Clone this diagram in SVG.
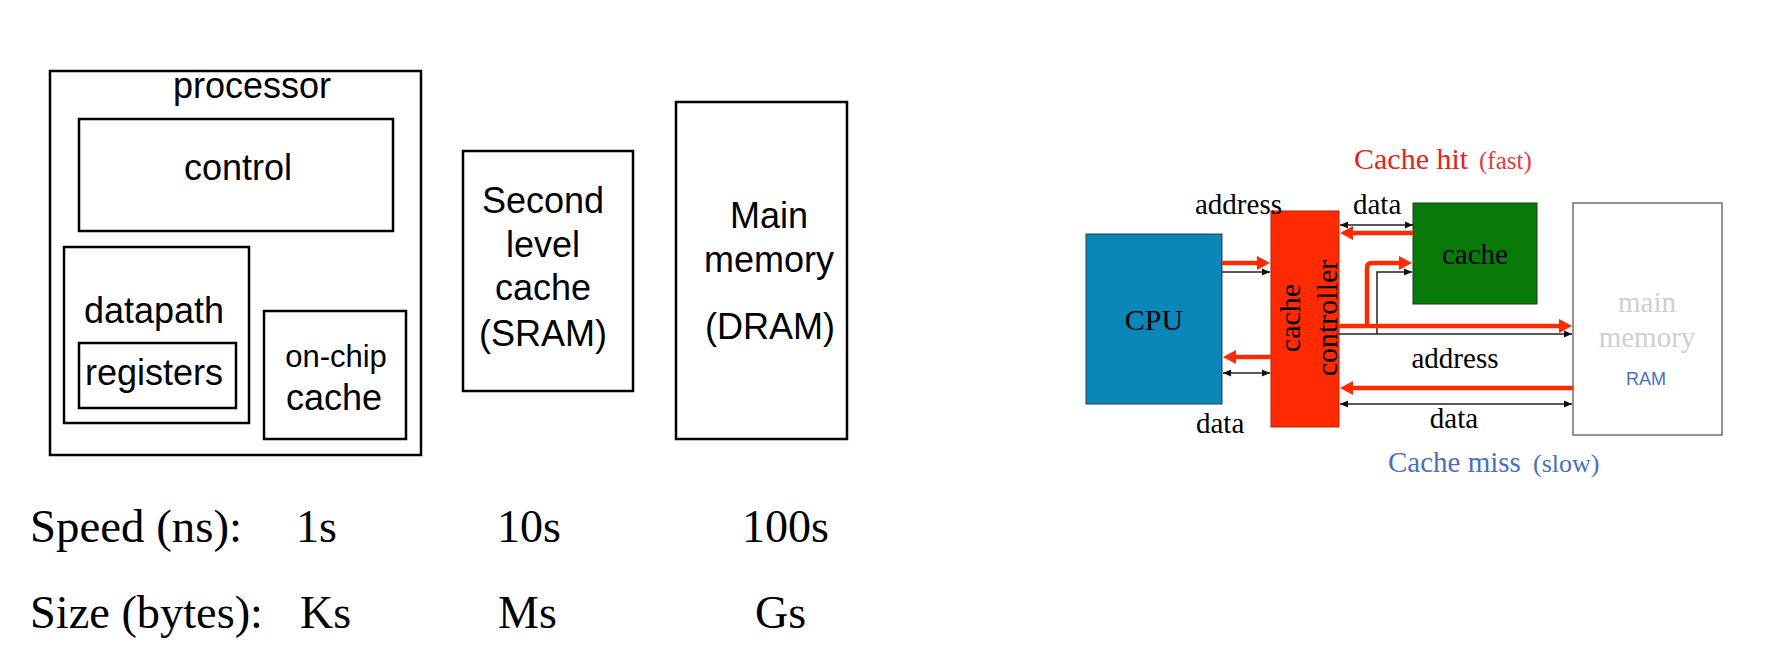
<svg xmlns="http://www.w3.org/2000/svg" width="1772" height="663" viewBox="0 0 1772 663">
<style>
.box{fill:none;stroke:#000;stroke-width:2.5}
.sans{font-family:"Liberation Sans",Arial,sans-serif;font-size:36px;fill:#000}
.ser{font-family:"Liberation Serif","Times New Roman",serif;font-size:46px;fill:#000}
.lbl{font-family:"Liberation Serif","Times New Roman",serif;font-size:29px;fill:#000}
.red{fill:none;stroke:#ff2a00;stroke-width:4.5}
.blk{fill:none;stroke:#222;stroke-width:1.5}
.m{text-anchor:middle}
</style>
<defs>
<marker id="rh" markerUnits="userSpaceOnUse" markerWidth="14" markerHeight="14" refX="1" refY="7" orient="auto-start-reverse">
<path d="M0,0 L13,7 L0,14 z" fill="#ff2a00"/>
</marker>
<marker id="bh" markerUnits="userSpaceOnUse" markerWidth="9" markerHeight="8" refX="8" refY="4" orient="auto-start-reverse">
<path d="M0,0.5 L8,4 L0,7.5 z" fill="#111"/>
</marker>
</defs>
<rect width="1772" height="663" fill="#fff"/>

<!-- Left: memory hierarchy -->
<g id="processor">
<rect class="box" x="50" y="71" width="371" height="384"/>
<text class="sans m" x="252" y="98">processor</text>
</g>
<g id="control">
<rect class="box" x="79" y="119" width="314" height="112"/>
<text class="sans m" x="238" y="180">control</text>
</g>
<g id="datapath">
<rect class="box" x="64" y="247" width="185" height="176"/>
<text class="sans m" x="154" y="323">datapath</text>
</g>
<g id="registers">
<rect class="box" x="79" y="343" width="157" height="65"/>
<text class="sans m" x="154" y="385">registers</text>
</g>
<g id="onchip-cache">
<rect class="box" x="264" y="311" width="142" height="128"/>
<text class="sans m" x="336" y="367" style="font-size:31px">on-chip</text>
<text class="sans m" x="334" y="410">cache</text>
</g>
<g id="second-level-cache">
<rect class="box" x="463" y="151" width="170" height="240"/>
<text class="sans m" x="543" y="213">Second</text>
<text class="sans m" x="543" y="257">level</text>
<text class="sans m" x="543" y="300">cache</text>
<text class="sans m" x="543" y="346">(SRAM)</text>
</g>
<g id="main-memory-dram">
<rect class="box" x="676" y="102" width="171" height="337"/>
<text class="sans m" x="769" y="228">Main</text>
<text class="sans m" x="769" y="272">memory</text>
<text class="sans m" x="770" y="339">(DRAM)</text>
</g>
<g id="table">
<text class="ser" x="30" y="542" textLength="212" lengthAdjust="spacingAndGlyphs">Speed (ns):</text>
<text class="ser" x="296" y="542">1s</text>
<text class="ser" x="497" y="542">10s</text>
<text class="ser" x="742" y="542">100s</text>
<text class="ser" x="30" y="628" textLength="233" lengthAdjust="spacingAndGlyphs">Size (bytes):</text>
<text class="ser" x="300" y="628">Ks</text>
<text class="ser" x="498" y="628">Ms</text>
<text class="ser" x="755" y="628">Gs</text>
</g>

<!-- Right: cache controller diagram -->
<g id="cpu">
<rect x="1086" y="234" width="136" height="170" fill="#0a86b9" stroke="#2b3b45" stroke-width="1"/>
<text class="lbl m" x="1154" y="330" style="font-size:30px">CPU</text>
</g>
<g id="cache">
<rect x="1413" y="203" width="124" height="101" fill="#077a07" stroke="#1f3a1f" stroke-width="1"/>
<text class="lbl m" x="1475" y="264">cache</text>
</g>
<g id="main-memory">
<rect x="1573" y="203" width="149" height="232" fill="#fff" stroke="#707070" stroke-width="1.5"/>
<text class="lbl m" x="1647" y="312" style="fill:#cfcfcf">main</text>
<text class="lbl m" x="1647" y="347" style="fill:#cfcfcf">memory</text>
<text class="m" x="1646" y="385" style="font-family:'Liberation Sans',Arial,sans-serif;font-size:18px;fill:#4472c4">RAM</text>
</g>
<g id="cache-controller">
<rect x="1271" y="211" width="68" height="216" fill="#ff2a00" stroke="#b52000" stroke-width="1"/>
<text class="lbl m" transform="translate(1300,318) rotate(-90)" style="font-size:30px">cache</text>
<text class="lbl m" transform="translate(1337,318) rotate(-90)" style="font-size:30px">controller</text>
</g>

<g id="connectors">
<line class="red" x1="1222" y1="263" x2="1258" y2="263" marker-end="url(#rh)"/>
<line class="blk" x1="1222" y1="272" x2="1270" y2="272" marker-end="url(#bh)"/>
<line class="blk" x1="1340" y1="225" x2="1413" y2="225" marker-start="url(#bh)" marker-end="url(#bh)"/>
<line class="red" x1="1413" y1="233" x2="1352" y2="233" marker-end="url(#rh)"/>
<path class="red" d="M1367,326 V268 Q1367,263 1372,263 H1400" marker-end="url(#rh)"/>
<path class="blk" d="M1377,334 V272 H1412" marker-end="url(#bh)"/>
<line class="red" x1="1339" y1="326" x2="1560" y2="326" marker-end="url(#rh)"/>
<line class="blk" x1="1339" y1="334" x2="1572" y2="334" marker-end="url(#bh)"/>
<line class="red" x1="1271" y1="357" x2="1235" y2="357" marker-end="url(#rh)"/>
<line class="blk" x1="1223" y1="373" x2="1270" y2="373" marker-start="url(#bh)" marker-end="url(#bh)"/>
<line class="red" x1="1573" y1="388" x2="1352" y2="388" marker-end="url(#rh)"/>
<line class="blk" x1="1340" y1="404" x2="1572" y2="404" marker-start="url(#bh)" marker-end="url(#bh)"/>
</g>

<g id="labels">
<text x="1354" y="169" style="font-family:'Liberation Serif','Times New Roman',serif;font-size:30px;fill:#e52222">Cache hit</text>
<text x="1479" y="169" style="font-family:'Liberation Serif','Times New Roman',serif;font-size:25px;fill:#e8383d">(fast)</text>
<text class="lbl" x="1195" y="214">address</text>
<text class="lbl" x="1353" y="214">data</text>
<text class="lbl" x="1196" y="433">data</text>
<text class="lbl m" x="1455" y="368">address</text>
<text class="lbl m" x="1454" y="428">data</text>
<text x="1388" y="472" style="font-family:'Liberation Serif','Times New Roman',serif;font-size:29px;fill:#4a6fbf">Cache miss</text>
<text x="1533" y="472" style="font-family:'Liberation Serif','Times New Roman',serif;font-size:26px;fill:#4472c4">(slow)</text>
</g>
</svg>
